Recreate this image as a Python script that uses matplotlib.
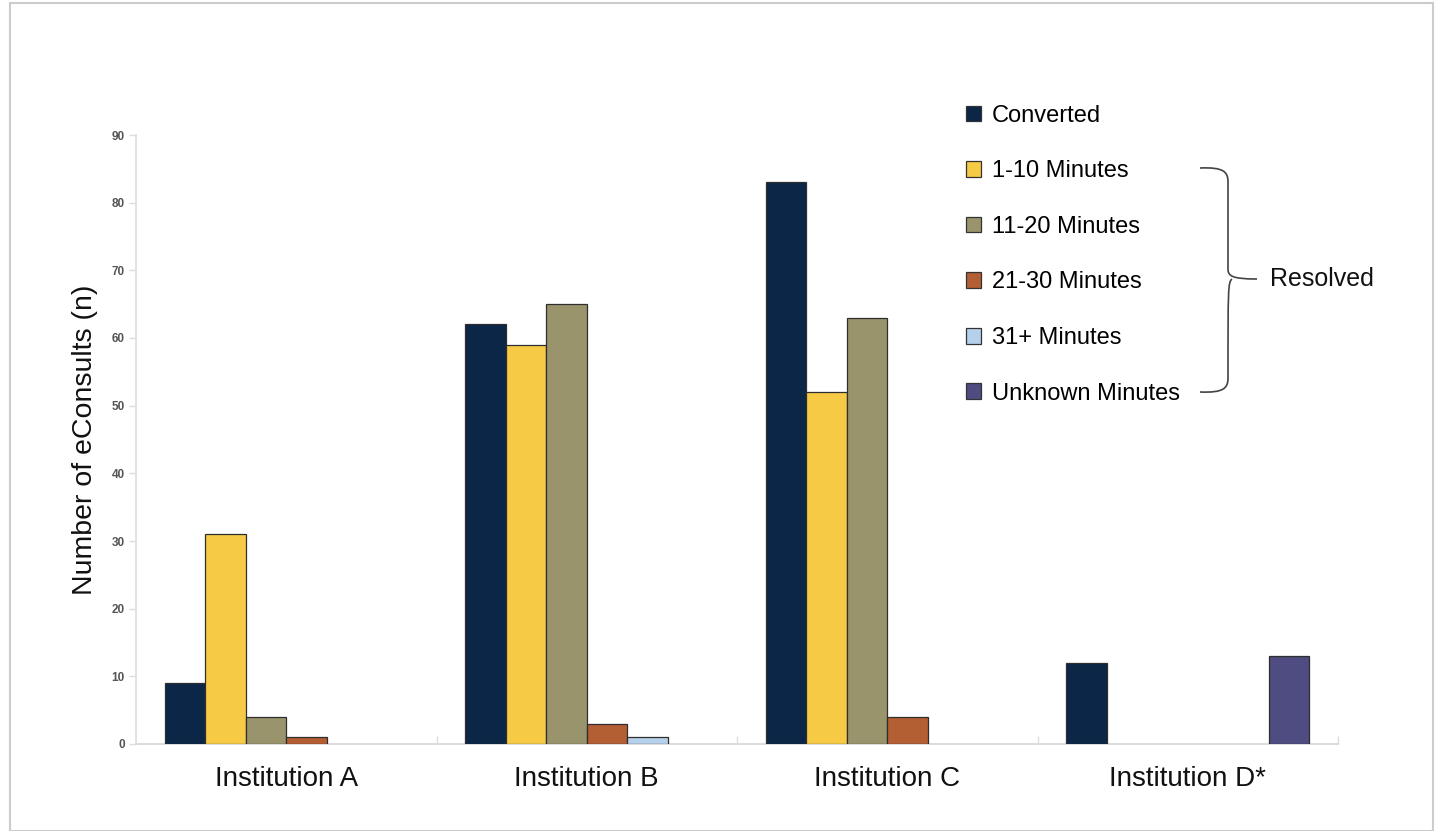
import numpy as np
import matplotlib
matplotlib.use("Agg")
import matplotlib.pyplot as plt
from matplotlib.patches import Patch, Rectangle, PathPatch
from matplotlib.path import Path

categories = ["Institution A", "Institution B", "Institution C", "Institution D*"]
series_names = ["Converted", "1-10 Minutes", "11-20 Minutes", "21-30 Minutes",
                "31+ Minutes", "Unknown Minutes"]
converted = [9, 62, 83, 12]
min_1_10 = [31, 59, 52, np.nan]
min_11_20 = [4, 65, 63, np.nan]
min_21_30 = [1, 3, 4, np.nan]
min_31_plus = [np.nan, 1, np.nan, np.nan]
unknown = [np.nan, np.nan, np.nan, 13]
series_values = [converted, min_1_10, min_11_20, min_21_30, min_31_plus, unknown]
colors = ["#0c2647", "#f6ca45", "#99946c", "#b35e33", "#b5d0ea", "#4e4c80"]
yticks = [0, 10, 20, 30, 40, 50, 60, 70, 80, 90]

W, H = 1435, 831
fig = plt.figure(figsize=(W / 100, H / 100), dpi=100)
plt.rcParams['font.family'] = ['Liberation Sans', 'DejaVu Sans']

ax = fig.add_axes([136 / W, 1 - 744 / H, (1338 - 136) / W, (744 - 135) / H])

x = np.arange(len(categories))
bw = 0.135
n = len(series_names)
for i, (vals, c) in enumerate(zip(series_values, colors)):
    offs = (i - (n - 1) / 2) * bw
    v = np.array(vals, dtype=float)
    mask = ~np.isnan(v)
    ax.bar(x[mask] + offs, v[mask], width=bw, color=c, edgecolor="#2e2e2e",
           linewidth=0.9, zorder=3)

ax.set_xlim(-0.5, len(categories) - 0.5)
ax.set_ylim(0, 90)
ax.set_yticks(yticks)
ax.set_yticklabels([str(t) for t in yticks], fontsize=8.5, fontweight="bold",
                   color="#555555")
ax.set_xticks(x)
ax.set_xticklabels(categories, fontsize=20, color="#111111")
ax.tick_params(axis="x", which="major", length=0, pad=16)
ax.set_xticks(np.arange(0.5, len(categories), 1), minor=True)
ax.tick_params(axis="x", which="minor", length=6, direction="in",
               color="#dddddd", width=1)
ax.tick_params(axis="y", length=5, color="#dddddd", width=1, pad=3)
ax.set_ylabel("Number of eConsults (n)", fontsize=20.5, color="#111111",
              labelpad=10)

for s in ["top", "right"]:
    ax.spines[s].set_visible(False)
ax.spines["left"].set_color("#dddddd")
ax.spines["bottom"].set_color("#dddddd")
ax.spines["left"].set_linewidth(1.2)
ax.spines["bottom"].set_linewidth(1.5)

# Legend
handles = [Patch(facecolor=c, edgecolor="#333333", linewidth=0.9) for c in colors]
fig.legend(handles, series_names, loc="upper left",
           bbox_to_anchor=(947 / W, 1 - 86 / H), frameon=False, fontsize=17,
           handlelength=0.64, handleheight=0.64, handletextpad=0.45,
           labelspacing=1.42, borderpad=0.3)

# Brace
def px(xp, yp):
    return (xp / W, 1 - yp / H)

top, mid, bot = 168, 279, 392
xl, xv, xr = 1200, 1228, 1257
verts = [px(xl, top), px(xv - 4, top - 1), px(xv, top + 4), px(xv, top + 14),
         px(xv, mid - 10),
         px(xv, mid - 3), px(xv + 4, mid), px(xr, mid),
         px(xv + 4, mid), px(xv, mid + 3), px(xv, mid + 10),
         px(xv, bot - 14),
         px(xv, bot - 4), px(xv - 4, bot + 1), px(xl, bot)]
codes = [Path.MOVETO, Path.CURVE4, Path.CURVE4, Path.CURVE4,
         Path.LINETO,
         Path.CURVE4, Path.CURVE4, Path.CURVE4,
         Path.MOVETO, Path.CURVE4, Path.CURVE4,
         Path.LINETO,
         Path.CURVE4, Path.CURVE4, Path.CURVE4]
fig.add_artist(PathPatch(Path(verts, codes), transform=fig.transFigure,
                         facecolor="none", edgecolor="#444444", linewidth=1.2))
fig.text(1270 / W, 1 - mid / H, "Resolved", fontsize=18, va="center",
         ha="left", color="#111111")

# Border
fig.add_artist(Rectangle((10 / W, 0), (1433 - 10) / W, 1 - 3 / H,
                         transform=fig.transFigure, facecolor="none",
                         edgecolor="#cccccc", linewidth=1.5))

fig.savefig("out.png", dpi=100)
